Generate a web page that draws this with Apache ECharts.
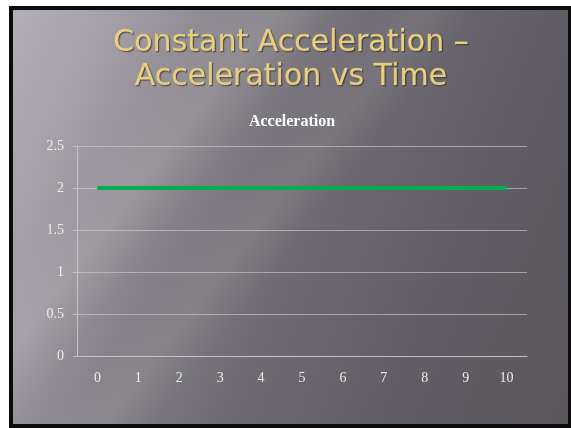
<!DOCTYPE html>
<html>
<head>
<meta charset="utf-8">
<script src="https://cdn.jsdelivr.net/npm/echarts@6/dist/echarts.min.js"></script>
<style>
  html, body { margin: 0; padding: 0; background: #fff; }
  #slide {
    position: absolute; left: 9px; top: 6px;
    width: 562px; height: 422px; box-sizing: border-box;
    border: 4px solid #0c0c0c;
    border-right-width: 3px;
    background:
      linear-gradient(128deg, rgba(255,255,255,0) 22%, rgba(255,255,255,0.10) 30%, rgba(255,255,255,0) 37%,
                      rgba(255,255,255,0) 41%, rgba(255,255,255,0.07) 47%, rgba(255,255,255,0) 53%),
      linear-gradient(112deg, #b3aeb5 0%, #a5a0a8 14%, #87838a 32%, #6f6b72 52%, #615d64 75%, #5a565c 100%);
  }
  #chart { position: absolute; left: 0; top: 0; width: 571px; height: 428px; }
</style>
</head>
<body>
<div id="slide"></div>
<div id="chart"></div>
<script>
// chart values
const times = ["0", "1", "2", "3", "4", "5", "6", "7", "8", "9", "10"];
const acceleration = [2, 2, 2, 2, 2, 2, 2, 2, 2, 2, 2];
const slideTitle = ["Constant Acceleration \u2013", "Acceleration vs Time"];

const chart = echarts.init(document.getElementById("chart"));

const labelFont = {
  color: "#ececec",
  fontFamily: "Liberation Serif",
  fontSize: 14,
};

const options = {
  backgroundColor: "transparent",
  animation: false,
  title: {
    text: "Acceleration",
    left: 292,
    top: 114,
    padding: 0,
    textAlign: "center",
    textStyle: {
      color: "#ffffff",
      fontFamily: "Liberation Serif",
      fontWeight: "bold",
      fontSize: 16,
    },
  },
  graphic: slideTitle.map((line, i) => ({
    type: "text",
    x: 291,
    y: 43 + i * 34,
    style: {
      text: line,
      x: 0,
      y: 0,
      align: "center",
      verticalAlign: "middle",
      font: "30px 'DejaVu Sans'",
      fill: "#e6cf82",
      stroke: "rgba(230,207,130,0.6)",
      lineWidth: 0.6,
      textShadowColor: "rgba(40,34,30,0.6)",
      textShadowBlur: 1,
      textShadowOffsetX: 1,
      textShadowOffsetY: 1,
    },
  })),
  grid: {
    left: 77,
    right: 44,
    top: 146,
    bottom: 71.5,
    containLabel: false,
  },
  xAxis: {
    type: "category",
    data: times,
    boundaryGap: true,
    axisLine: { lineStyle: { color: "#c6c2c8", width: 1 } },
    axisTick: { length: 4, lineStyle: { color: "#c6c2c8" } },
    axisLabel: { ...labelFont, margin: 15 },
    splitLine: { show: false },
  },
  yAxis: {
    type: "value",
    min: 0,
    max: 2.5,
    interval: 0.5,
    axisLine: { show: true, lineStyle: { color: "#c6c2c8", width: 1 } },
    axisTick: { show: true, length: 4, lineStyle: { color: "rgba(210,206,212,0.7)" } },
    axisLabel: { ...labelFont, margin: 13 },
    splitLine: { show: true, lineStyle: { color: "rgba(210,206,212,0.6)", width: 1 } },
  },
  series: [
    {
      name: "Acceleration",
      type: "line",
      data: acceleration,
      showSymbol: false,
      symbol: "none",
      lineStyle: { color: "#00b050", width: 4 },
      itemStyle: { color: "#00b050" },
    },
  ],
};

chart.setOption(options);
</script>
</body>
</html>
